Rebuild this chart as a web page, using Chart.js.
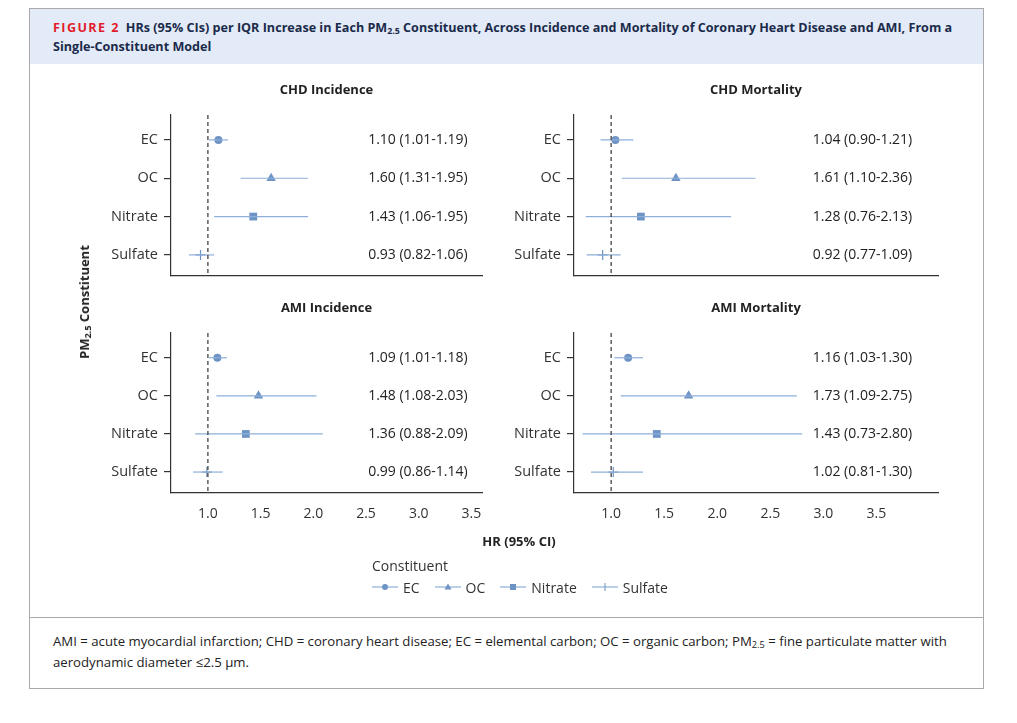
<!DOCTYPE html>
<html>
<head>
<meta charset="utf-8">
<script src="https://cdn.jsdelivr.net/npm/chart.js@4.4.1/dist/chart.umd.min.js"></script>
<style>
  html, body { margin: 0; padding: 0; background: #fff; }
  body { width: 1017px; height: 723px; position: relative; overflow: hidden; font-family: "Open Sans", "Noto Sans", sans-serif; color: #222; }
  #box { position: absolute; left: 29px; top: 8px; width: 955px; height: 681px; border: 1px solid #a9a9a9; box-sizing: border-box; }
  #header { position: absolute; left: 0; top: 0; right: 0; height: 55px; background: #e2ebf7; }
  #htext { position: absolute; left: 23px; top: 9px; width: 920px; font-weight: 700; font-size: 12.6px; line-height: 19px; color: #1b2a4a; }
  #htext .fig { color: #e31c2d; letter-spacing: 1.4px; margin-right: 6px; }
  #footer { position: absolute; left: 0; right: 0; top: 608px; bottom: 0; border-top: 1px solid #a9a9a9; }
  #ftext { position: absolute; left: 23px; top: 13px; width: 915px; font-size: 13.2px; line-height: 21px; color: #222; }
  sub { font-size: 0.7em; vertical-align: -0.25em; line-height: 0; }
  canvas.panel { position: absolute; }
  #ytitle { position: absolute; left: 84px; top: 302px; transform: translate(-50%, -50%) rotate(-90deg); font-weight: 700; font-size: 13px; white-space: nowrap; color: #222; }
  #xtitle { position: absolute; left: 519px; top: 541px; transform: translate(-50%, -50%); font-weight: 700; font-size: 13px; white-space: nowrap; color: #222; }
  #legend { position: absolute; left: 372px; top: 556px; font-size: 14px; color: #333; }
  #legend .ltitle { height: 20px; line-height: 20px; }
  #legend .items { display: flex; align-items: center; height: 22px; margin-top: 0px; }
  #legend .item { display: flex; align-items: center; margin-right: 15px; }
  #legend svg { margin-right: 5px; }
</style>
</head>
<body>
<div id="box">
  <div id="header"><div id="htext"><span class="fig">FIGURE 2</span>HRs (95% CIs) per IQR Increase in Each PM<sub>2.5</sub> Constituent, Across Incidence and Mortality of Coronary Heart Disease and AMI, From a Single-Constituent Model</div></div>
  <div id="footer"><div id="ftext">AMI = acute myocardial infarction; CHD = coronary heart disease; EC = elemental carbon; OC = organic carbon; PM<sub>2.5</sub> = fine particulate matter with aerodynamic diameter ≤2.5 μm.</div></div>
</div>
<canvas class="panel" id="p0"></canvas>
<canvas class="panel" id="p1"></canvas>
<canvas class="panel" id="p2"></canvas>
<canvas class="panel" id="p3"></canvas>
<div id="ytitle">PM<sub>2.5</sub> Constituent</div>
<div id="xtitle">HR (95% CI)</div>
<div id="legend">
  <div class="ltitle">Constituent</div>
  <div class="items" id="legendItems"></div>
</div>
<script>
// ---- data ----
const categories = ['EC', 'OC', 'Nitrate', 'Sulfate'];
const panelTitles = ['CHD Incidence', 'CHD Mortality', 'AMI Incidence', 'AMI Mortality'];
const xTickValues = [1.0, 1.5, 2.0, 2.5, 3.0, 3.5];
const referenceHR = 1.0;

const hrCHDIncidence   = [1.10, 1.60, 1.43, 0.93];
const lowCHDIncidence  = [1.01, 1.31, 1.06, 0.82];
const highCHDIncidence = [1.19, 1.95, 1.95, 1.06];

const hrCHDMortality   = [1.04, 1.61, 1.28, 0.92];
const lowCHDMortality  = [0.90, 1.10, 0.76, 0.77];
const highCHDMortality = [1.21, 2.36, 2.13, 1.09];

const hrAMIIncidence   = [1.09, 1.48, 1.36, 0.99];
const lowAMIIncidence  = [1.01, 1.08, 0.88, 0.86];
const highAMIIncidence = [1.18, 2.03, 2.09, 1.14];

const hrAMIMortality   = [1.16, 1.73, 1.43, 1.02];
const lowAMIMortality  = [1.03, 1.09, 0.73, 0.81];
const highAMIMortality = [1.30, 2.75, 2.80, 1.30];

// ---- styling / layout ----
const markerColor = '#6e93c5';
const lineColor = '#8eafd9';
const pointStyles = ['circle', 'triangle', 'rect', 'cross'];
const pointRadii = [4, 5.5, 5.5, 5];
const fontFamily = '"Open Sans", "Noto Sans", sans-serif';

const panels = [
  { hr: hrCHDIncidence, low: lowCHDIncidence, high: highCHDIncidence, left: 171, right: 482, top: 115, bottom: 276, xMax: 3.6, labelX: 2.52, showX: false },
  { hr: hrCHDMortality, low: lowCHDMortality, high: highCHDMortality, left: 574, right: 938, top: 115, bottom: 276, xMax: 4.08, labelX: 2.9, showX: false },
  { hr: hrAMIIncidence, low: lowAMIIncidence, high: highAMIIncidence, left: 171, right: 482, top: 333, bottom: 493, xMax: 3.6, labelX: 2.52, showX: true },
  { hr: hrAMIMortality, low: lowAMIMortality, high: highAMIMortality, left: 574, right: 938, top: 333, bottom: 493, xMax: 4.08, labelX: 2.9, showX: true }
];

const Y_AXIS_W = 90, PAD_TOP = 40, X_AXIS_H = 40, PAD_RIGHT = 30;
const yMin = 0.35, yMax = 4.55;

const annotatePlugin = {
  id: 'annotate',
  afterDatasetsDraw(chart, args, opts) {
    const ctx = chart.ctx;
    const xs = chart.scales.x, ys = chart.scales.y;
    const ca = chart.chartArea;
    ctx.save();
    ctx.fillStyle = '#222';
    ctx.font = '700 13px ' + fontFamily;
    ctx.textAlign = 'center';
    ctx.textBaseline = 'middle';
    ctx.fillText(opts.title, (ca.left + ca.right) / 2, ca.top - 25);
    ctx.font = '14px ' + fontFamily;
    ctx.textAlign = 'left';
    for (let i = 0; i < opts.hr.length; i++) {
      const txt = opts.hr[i].toFixed(2) + ' (' + opts.low[i].toFixed(2) + '-' + opts.high[i].toFixed(2) + ')';
      ctx.fillText(txt, xs.getPixelForValue(opts.labelX), ys.getPixelForValue(i + 1));
    }
    ctx.restore();
  }
};

panels.forEach((p, k) => {
  const cv = document.getElementById('p' + k);
  const w = Y_AXIS_W + (p.right - p.left) + PAD_RIGHT;
  const h = PAD_TOP + (p.bottom - p.top) + X_AXIS_H;
  cv.style.left = (p.left - Y_AXIS_W) + 'px';
  cv.style.top = (p.top - PAD_TOP) + 'px';
  cv.style.width = w + 'px';
  cv.style.height = h + 'px';
  cv.width = w; cv.height = h;

  const datasets = [];
  datasets.push({
    type: 'line', label: 'ref',
    data: [{ x: referenceHR, y: yMin }, { x: referenceHR, y: yMax }],
    borderColor: '#444', borderWidth: 1.3, borderDash: [4, 3], pointRadius: 0
  });
  categories.forEach((c, i) => {
    datasets.push({
      type: 'line', label: c + ' CI',
      data: [{ x: p.low[i], y: i + 1 }, { x: p.high[i], y: i + 1 }],
      borderColor: lineColor, borderWidth: 1.2, pointRadius: 0
    });
  });
  categories.forEach((c, i) => {
    datasets.push({
      type: 'scatter', label: c,
      data: [{ x: p.hr[i], y: i + 1 }],
      pointStyle: pointStyles[i], pointRadius: pointRadii[i],
      backgroundColor: markerColor, borderColor: markerColor,
      borderWidth: pointStyles[i] === 'cross' ? 1.2 : 0
    });
  });

  new Chart(cv, {
    type: 'scatter',
    data: { datasets },
    plugins: [annotatePlugin],
    options: {
      responsive: false, animation: false, devicePixelRatio: 1,
      layout: { padding: { top: PAD_TOP, right: PAD_RIGHT, left: 0, bottom: 0 } },
      plugins: {
        legend: { display: false }, tooltip: { enabled: false }, title: { display: false },
        annotate: { title: panelTitles[k], hr: p.hr, low: p.low, high: p.high, labelX: p.labelX }
      },
      scales: {
        x: {
          type: 'linear', min: 0.65, max: p.xMax,
          afterBuildTicks: s => { s.ticks = xTickValues.map(v => ({ value: v })); },
          afterFit: s => { s.height = X_AXIS_H; },
          grid: { display: false, drawTicks: false },
          border: { display: true, color: '#333', width: 1.2 },
          ticks: {
            display: p.showX, padding: 13, color: '#333',
            font: { family: fontFamily, size: 14 },
            callback: v => Number(v).toFixed(1), maxRotation: 0, autoSkip: false
          }
        },
        y: {
          type: 'linear', min: yMin, max: yMax, reverse: true,
          afterBuildTicks: s => { s.ticks = categories.map((c, i) => ({ value: i + 1 })); },
          afterFit: s => { s.width = Y_AXIS_W; },
          grid: { display: true, drawOnChartArea: false, drawTicks: true, tickLength: 7, color: '#333', lineWidth: 1.2 },
          border: { display: true, color: '#333', width: 1.2 },
          ticks: {
            padding: 6, color: '#333', font: { family: fontFamily, size: 14.5 },
            callback: v => categories[Math.round(v) - 1] || '', autoSkip: false
          }
        }
      }
    }
  });
});

// legend
const li = document.getElementById('legendItems');
categories.forEach((c, i) => {
  const d = document.createElement('div');
  d.className = 'item';
  let m = '';
  if (pointStyles[i] === 'circle') m = '<circle cx="13" cy="6" r="3" fill="' + markerColor + '"/>';
  if (pointStyles[i] === 'triangle') m = '<polygon points="13,2.5 16.5,8.5 9.5,8.5" fill="' + markerColor + '"/>';
  if (pointStyles[i] === 'rect') m = '<rect x="10" y="3" width="6" height="6" fill="' + markerColor + '"/>';
  if (pointStyles[i] === 'cross') m = '<line x1="13" y1="2" x2="13" y2="10" stroke="' + markerColor + '" stroke-width="1"/>';
  d.innerHTML = '<svg width="26" height="12"><line x1="0" y1="6" x2="26" y2="6" stroke="' + lineColor + '" stroke-width="1.2"/>' + m + '</svg><span>' + c + '</span>';
  li.appendChild(d);
});
</script>
</body>
</html>
